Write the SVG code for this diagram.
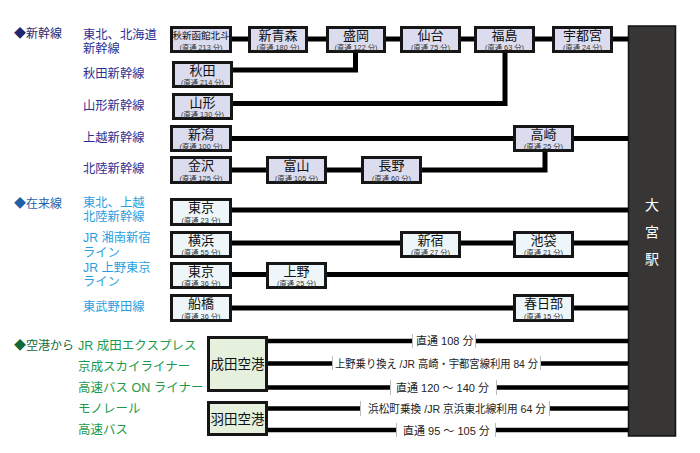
<svg xmlns="http://www.w3.org/2000/svg" width="700" height="453" viewBox="0 0 700 453">
<style>
text{font-family:"Liberation Sans","Noto Sans CJK JP","Noto Sans CJK SC",sans-serif}
.sb rect{fill:#dcdcef;stroke:#161616;stroke-width:3}
.zr rect{fill:#eef6fa;stroke:#161616;stroke-width:3}
.ap rect{fill:#e5f0dd;stroke:#161616;stroke-width:3}
.nm{font-size:13px;fill:#111;text-anchor:middle}
.sub{font-size:7.3px;fill:#333;text-anchor:middle}
.ln{stroke:#000;stroke-width:5;fill:none}
.al{stroke:#000;stroke-width:4.5;fill:none}
.tk{stroke:#bbb;stroke-width:1}
.lb{font-size:11px;fill:#222}
.h1{font-size:12px;fill:#1f276e}
.s1{font-size:12.3px;fill:#2e3192}
.h2{font-size:12px;fill:#1f5fa8}
.s2{font-size:12.3px;fill:#2a9fe0}
.h3{font-size:12px;fill:#0f6a35}
.s3{font-size:12.5px;fill:#1c9a4c}
</style>
<rect width="700" height="453" fill="#fff"/>
<g id="connectors">
<path class="ln" d="M232 39H628"/>
<path class="ln" d="M233 70H355.5V53"/>
<path class="ln" d="M233 103.5H505V53"/>
<path class="ln" d="M232 138.5H628"/>
<path class="ln" d="M232 170H545V152"/>
<path class="ln" d="M232 210H628"/>
<path class="ln" d="M232 243H628"/>
<path class="ln" d="M232 274.5H628"/>
<path class="ln" d="M232 308H628"/>
<path class="al" d="M268 341H412M475 341H628"/>
<path class="al" d="M268 363.5H332M541 363.5H628"/>
<path class="al" d="M268 387.5H390M496 387.5H628"/>
<path class="al" d="M268 408.5H360M549 408.5H628"/>
<path class="al" d="M268 430H396M495 430H628"/>
<path class="tk" d="M412.5 334V348M475.5 334V348M332.5 356V370M540.5 356V370M390.5 380V395M496.5 380V395M360.5 401V416M549.5 401V416M396.5 423V437M495.5 423V437"/>
<text class="lb" x="416" y="345">直通 108 分</text>
<text class="lb" x="335" y="367.5" textLength="203" lengthAdjust="spacingAndGlyphs">上野乗り換え /JR 高崎・宇都宮線利用 84 分</text>
<text class="lb" x="396" y="392">直通 120 ～ 140 分</text>
<text class="lb" x="368" y="413" textLength="178" lengthAdjust="spacingAndGlyphs">浜松町乗換 /JR 京浜東北線利用 64 分</text>
<text class="lb" x="403" y="434.5">直通 95 ～ 105 分</text>
</g>
<g id="omiya">
<rect x="628.5" y="26" width="47" height="410" fill="#383634" stroke="#111" stroke-width="1.5"/>
<text x="652" y="210" font-size="14" fill="#fff" text-anchor="middle">大</text>
<text x="652" y="237" font-size="14" fill="#fff" text-anchor="middle">宮</text>
<text x="652" y="264" font-size="14" fill="#fff" text-anchor="middle">駅</text>
</g>
<g id="labels">
<text class="h1" x="14" y="38">◆新幹線</text>
<text class="s1" x="83" y="38.5">東北、北海道<tspan x="83" y="52.5">新幹線</tspan></text>
<text class="s1" x="83" y="78">秋田新幹線</text>
<text class="s1" x="83" y="110">山形新幹線</text>
<text class="s1" x="83" y="142">上越新幹線</text>
<text class="s1" x="83" y="173">北陸新幹線</text>
<text class="h2" x="14" y="208">◆在来線</text>
<text class="s2" x="83" y="207">東北、上越<tspan x="83" y="221">北陸新幹線</tspan></text>
<text class="s2" x="83" y="242">JR 湘南新宿<tspan x="83" y="257">ライン</tspan></text>
<text class="s2" x="83" y="272">JR 上野東京<tspan x="83" y="286">ライン</tspan></text>
<text class="s2" x="83" y="311">東武野田線</text>
<text class="h3" x="14" y="350">◆空港から</text>
<text class="s3" x="78" y="350">JR 成田エクスプレス</text>
<text class="s3" x="78" y="371">京成スカイライナー</text>
<text class="s3" x="78" y="392">高速バス ON ライナー</text>
<text class="s3" x="78" y="413">モノレール</text>
<text class="s3" x="78" y="434">高速バス</text>
</g>
<g id="n-hakodate" class="sb"><rect x="171.5" y="27.5" width="59" height="24"/><text x="201" y="39" font-size="9.5" fill="#111" text-anchor="middle">秋新函館北斗</text><text class="sub" x="201" y="50">(直通 213 分)</text></g>
<g id="n-shinaomori" class="sb"><rect x="249.5" y="27.5" width="57" height="24"/><text class="nm" x="278" y="39.5">新青森</text><text class="sub" x="278" y="50.3">(直通 180 分)</text></g>
<g id="n-morioka" class="sb"><rect x="327.5" y="27.5" width="57" height="24"/><text class="nm" x="356" y="39.5">盛岡</text><text class="sub" x="356" y="50.3">(直通 122 分)</text></g>
<g id="n-sendai" class="sb"><rect x="401.5" y="27.5" width="58" height="24"/><text class="nm" x="430.5" y="39.5">仙台</text><text class="sub" x="430.5" y="50.3">(直通 75 分)</text></g>
<g id="n-fukushima" class="sb"><rect x="475.5" y="27.5" width="58" height="24"/><text class="nm" x="504.5" y="39.5">福島</text><text class="sub" x="504.5" y="50.3">(直通 63 分)</text></g>
<g id="n-utsunomiya" class="sb"><rect x="553.5" y="27.5" width="58" height="24"/><text class="nm" x="582.5" y="39.5">宇都宮</text><text class="sub" x="582.5" y="50.3">(直通 24 分)</text></g>
<g id="n-akita" class="sb"><rect x="173.5" y="62.5" width="58" height="24"/><text class="nm" x="202.5" y="74.5">秋田</text><text class="sub" x="202.5" y="85.3">(直通 214 分)</text></g>
<g id="n-yamagata" class="sb"><rect x="173.5" y="94.5" width="58" height="24"/><text class="nm" x="202.5" y="106.5">山形</text><text class="sub" x="202.5" y="117.3">(直通 130 分)</text></g>
<g id="n-niigata" class="sb"><rect x="171.5" y="126.5" width="59" height="24"/><text class="nm" x="201" y="138.5">新潟</text><text class="sub" x="201" y="149.3">(直通 100 分)</text></g>
<g id="n-takasaki" class="sb"><rect x="514.5" y="126.5" width="58" height="24"/><text class="nm" x="543.5" y="138.5">高崎</text><text class="sub" x="543.5" y="149.3">(直通 25 分)</text></g>
<g id="n-kanazawa" class="sb"><rect x="171.5" y="157.5" width="59" height="25"/><text class="nm" x="201" y="170">金沢</text><text class="sub" x="201" y="180.8">(直通 125 分)</text></g>
<g id="n-toyama" class="sb"><rect x="267.5" y="157.5" width="58" height="25"/><text class="nm" x="296.5" y="170">富山</text><text class="sub" x="296.5" y="180.8">(直通 105 分)</text></g>
<g id="n-nagano" class="sb"><rect x="362.5" y="157.5" width="58" height="25"/><text class="nm" x="391.5" y="170">長野</text><text class="sub" x="391.5" y="180.8">(直通 60 分)</text></g>
<g id="n-tokyo1" class="zr"><rect x="171.5" y="199.5" width="59" height="25"/><text class="nm" x="201" y="212">東京</text><text class="sub" x="201" y="222.8">(直通 23 分)</text></g>
<g id="n-yokohama" class="zr"><rect x="171.5" y="232.5" width="59" height="24"/><text class="nm" x="201" y="244.5">横浜</text><text class="sub" x="201" y="255.3">(直通 55 分)</text></g>
<g id="n-shinjuku" class="zr"><rect x="401.5" y="232.5" width="58" height="24"/><text class="nm" x="430.5" y="244.5">新宿</text><text class="sub" x="430.5" y="255.3">(直通 27 分)</text></g>
<g id="n-ikebukuro" class="zr"><rect x="514.5" y="232.5" width="58" height="24"/><text class="nm" x="543.5" y="244.5">池袋</text><text class="sub" x="543.5" y="255.3">(直通 21 分)</text></g>
<g id="n-tokyo2" class="zr"><rect x="171.5" y="263.5" width="59" height="24"/><text class="nm" x="201" y="275.5">東京</text><text class="sub" x="201" y="286.3">(直通 36 分)</text></g>
<g id="n-ueno" class="zr"><rect x="267.5" y="263.5" width="58" height="24"/><text class="nm" x="296.5" y="275.5">上野</text><text class="sub" x="296.5" y="286.3">(直通 25 分)</text></g>
<g id="n-funabashi" class="zr"><rect x="171.5" y="295.5" width="59" height="25"/><text class="nm" x="201" y="308">船橋</text><text class="sub" x="201" y="318.8">(直通 36 分)</text></g>
<g id="n-kasukabe" class="zr"><rect x="514.5" y="295.5" width="58" height="25"/><text class="nm" x="543.5" y="308">春日部</text><text class="sub" x="543.5" y="318.8">(直通 15 分)</text></g>
<g id="n-narita" class="ap"><rect x="208.5" y="337.5" width="58" height="53"/><text x="237.5" y="369" font-size="13.5" fill="#111" text-anchor="middle">成田空港</text></g>
<g id="n-haneda" class="ap"><rect x="208.5" y="402.5" width="58" height="32"/><text x="237.5" y="423.5" font-size="13.5" fill="#111" text-anchor="middle">羽田空港</text></g>
</svg>
